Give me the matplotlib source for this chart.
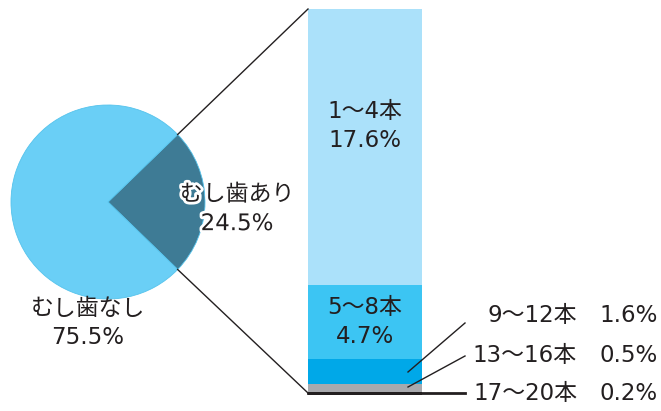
import numpy as np
import matplotlib.pyplot as plt
import matplotlib.patheffects as pe

plt.rcParams['font.family'] = ['DejaVu Sans', 'Noto Sans CJK JP']

# データ
pie_labels = ['むし歯あり', 'むし歯なし']
pie_values = [24.5, 75.5]
pie_colors = ['#3e7b95', '#6acff6']

bar_labels = ['17〜20本', '13〜16本', '9〜12本', '5〜8本', '1〜4本']
bar_values = [0.2, 0.5, 1.6, 4.7, 17.6]
bar_colors = ['#231f20', '#a8a9ad', '#00a8e8', '#3cc5f3', '#abe1fa']

W, H = 661, 411
fig = plt.figure(figsize=(W / 100, H / 100), dpi=100)

# 棒（内訳）
bx0, bx1, by0, by1 = 308, 422, 9, 395
bax = fig.add_axes([bx0 / W, 1 - by1 / H, (bx1 - bx0) / W, (by1 - by0) / H])
bottoms = np.concatenate([[0], np.cumsum(bar_values)[:-1]])
for v, b, c in zip(bar_values, bottoms, bar_colors):
    bax.bar([0], [v], bottom=b, width=1, color=c)
bax.set_xlim(-0.5, 0.5)
bax.set_ylim(0, sum(bar_values))
bax.axis('off')

# ピクセル座標の土台（棒の上に重ねる）
ax = fig.add_axes([0, 0, 1, 1])
ax.set_zorder(2)
ax.patch.set_alpha(0)

cx, cy, r = 108, 202, 97
half = pie_values[0] / 100 * 360 / 2
ax.pie(pie_values, colors=pie_colors, center=(cx, cy), radius=r,
       startangle=-half, counterclock=True, frame=True,
       wedgeprops=dict(edgecolor='#55c3ec', linewidth=0.6))
ax.set_xlim(0, W)
ax.set_ylim(H, 0)
ax.set_aspect('equal')
ax.axis('off')

stroke = [pe.withStroke(linewidth=4, foreground='white')]
fs = 16.5
ls = 1.35
ax.text(237, 209, 'むし歯あり\n24.5%', ha='center', va='center', fontsize=fs,
        color='#231f20', linespacing=ls, path_effects=stroke, zorder=5)
ax.text(88, 323, 'むし歯なし\n75.5%', ha='center', va='center', fontsize=fs,
        color='#231f20', linespacing=ls)

# 接続線
ang = np.deg2rad(half)
ex, ey = cx + r * np.cos(ang), cy - r * np.sin(ang)
ax.plot([ex, bx0], [ey, by0], color='#231f20', lw=1)
ax.plot([ex, bx0], [2 * cy - ey, by1 - 2], color='#231f20', lw=1)

# 棒内ラベル
ax.text(365, 126, '1〜4本\n17.6%', ha='center', va='center', fontsize=fs,
        color='#231f20', linespacing=ls)
ax.text(365, 322, '5〜8本\n4.7%', ha='center', va='center', fontsize=fs,
        color='#231f20', linespacing=ls)

# 小さい区分のラベル
ax.plot([408, 465], [372, 323], color='#231f20', lw=1)
ax.plot([408, 465], [387, 356], color='#231f20', lw=1)
ax.plot([bx0, 465], [393.5, 393.5], color='#231f20', lw=2)
for lab, v, y in zip(bar_labels[:3], bar_values[:3], [393, 355, 315]):
    ax.text(577, y, lab, ha='right', va='center', fontsize=fs, color='#231f20')
    ax.text(658, y, f'{v}%', ha='right', va='center', fontsize=fs, color='#231f20')

fig.savefig('out.png', dpi=100)
